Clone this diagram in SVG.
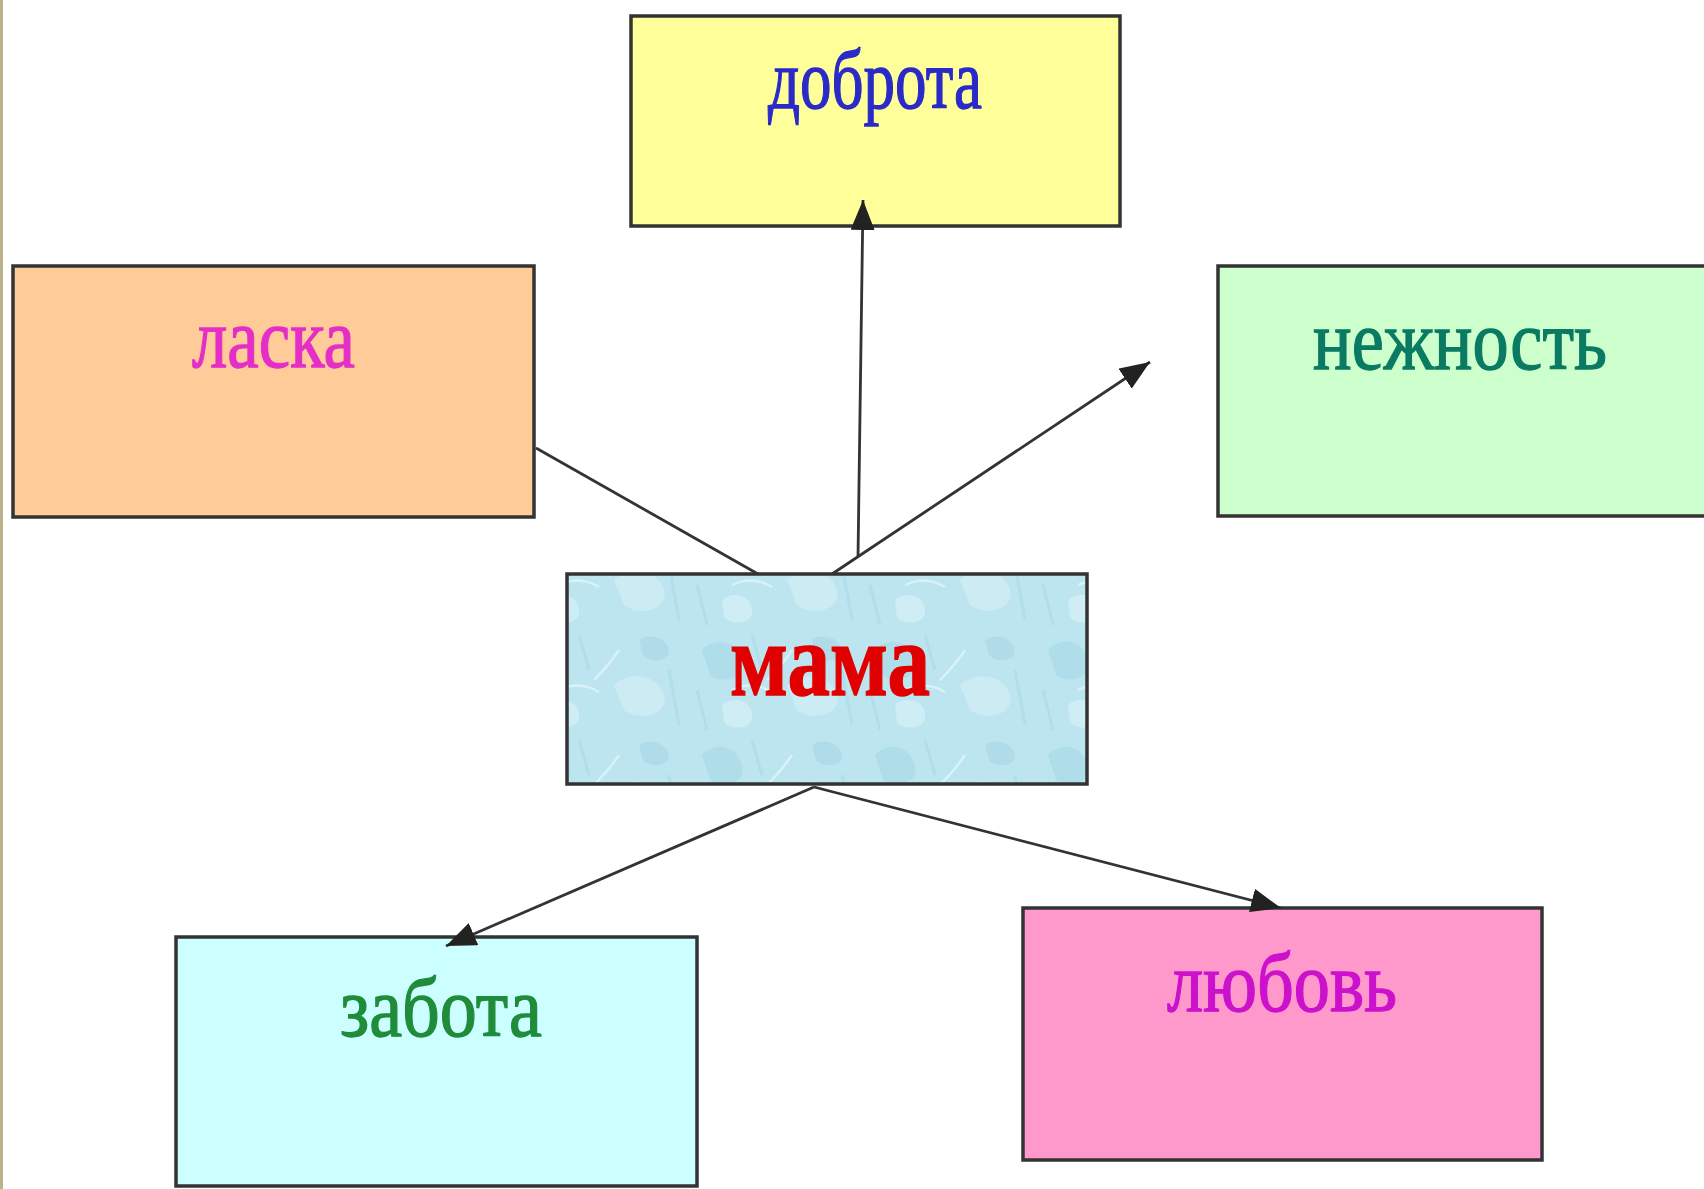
<svg xmlns="http://www.w3.org/2000/svg" width="1704" height="1189" viewBox="0 0 1704 1189">
  <style>
    .box { stroke: #333; stroke-width: 3.5; }
    .lbl { font-family: "Liberation Serif", "Times New Roman", serif; font-size: 84px; stroke-width: 1.3; }
    .conn { stroke: #333; stroke-width: 2.8; fill: none; }
  </style>
  <defs>
    <marker id="arr" markerUnits="userSpaceOnUse" markerWidth="32" markerHeight="24" refX="30" refY="12" orient="auto">
      <path d="M0,0 L30,12 L0,24 Z" fill="#222"/>
    </marker>
    <pattern id="water" width="173" height="105" patternUnits="userSpaceOnUse">
      <rect width="173" height="105" fill="#bce5ef"/>
      <path d="M10,20 C25,5 45,12 50,30 C55,48 30,55 18,45 Z" fill="#a6d7e5" opacity="0.6"/>
      <path d="M95,55 C110,40 140,45 145,65 C150,85 120,92 105,80 Z" fill="#d3eff6" opacity="0.7"/>
      <path d="M120,10 C130,2 150,8 150,22 C148,32 130,33 124,25 Z" fill="#a2d3e1" opacity="0.5"/>
      <path d="M30,75 C40,65 62,70 60,88 C58,100 38,100 32,92 Z" fill="#d8f2f8" opacity="0.7"/>
      <path d="M60,5 L70,40 M150,40 L160,95 M5,60 L15,100" stroke="#a8d8e6" stroke-width="3" opacity="0.6"/>
      <path d="M75,50 Q90,35 100,20 M40,60 Q60,50 80,62" stroke="#e0f5fa" stroke-width="2.5" fill="none" opacity="0.8"/>
    </pattern>
  </defs>
  <rect width="1704" height="1189" fill="#ffffff"/>
  <rect x="0" y="0" width="3" height="1189" fill="#b9b28a"/>

  <g id="node-dobrota">
    <rect class="box" x="631" y="16" width="489" height="210" fill="#ffff99"/>
    <text class="lbl" x="768" y="108" fill="#2a2ac8" stroke="#2a2ac8" textLength="214" lengthAdjust="spacingAndGlyphs">доброта</text>
  </g>
  <g id="node-laska">
    <rect class="box" x="13" y="266" width="521" height="251" fill="#ffcc99"/>
    <text class="lbl" x="192" y="367" fill="#e52ec8" stroke="#e52ec8" textLength="163" lengthAdjust="spacingAndGlyphs">ласка</text>
  </g>
  <g id="node-nezhnost">
    <rect class="box" x="1218" y="266" width="500" height="250" fill="#ccffcc"/>
    <text class="lbl" x="1313" y="369" fill="#0a7a62" stroke="#0a7a62" textLength="294" lengthAdjust="spacingAndGlyphs">нежность</text>
  </g>
  <g id="node-mama">
    <rect class="box" x="567" y="574" width="520" height="210" fill="url(#water)"/>
    <text x="730" y="695" fill="#e00000" stroke="#e00000" stroke-width="1.5" font-family="'Liberation Serif', 'Times New Roman', serif" font-weight="bold" font-size="104" textLength="200" lengthAdjust="spacingAndGlyphs">мама</text>
  </g>
  <g id="node-zabota">
    <rect class="box" x="176" y="937" width="521" height="249" fill="#ccffff"/>
    <text class="lbl" x="340" y="1036" fill="#1f8c3a" stroke="#1f8c3a" textLength="202" lengthAdjust="spacingAndGlyphs">забота</text>
  </g>
  <g id="node-lyubov">
    <rect class="box" x="1023" y="908" width="519" height="252" fill="#ff99cc"/>
    <text class="lbl" x="1167" y="1011" fill="#cc11cc" stroke="#cc11cc" textLength="230" lengthAdjust="spacingAndGlyphs">любовь</text>
  </g>

  <g id="connectors">
    <line class="conn" x1="536" y1="448" x2="758" y2="574"/>
    <line class="conn" x1="858" y1="557" x2="863" y2="200" marker-end="url(#arr)"/>
    <line class="conn" x1="832" y1="574" x2="1150" y2="362" marker-end="url(#arr)"/>
    <line class="conn" x1="814" y1="787" x2="446" y2="946" marker-end="url(#arr)"/>
    <line class="conn" x1="814" y1="787" x2="1281" y2="908" marker-end="url(#arr)"/>
  </g>
</svg>
